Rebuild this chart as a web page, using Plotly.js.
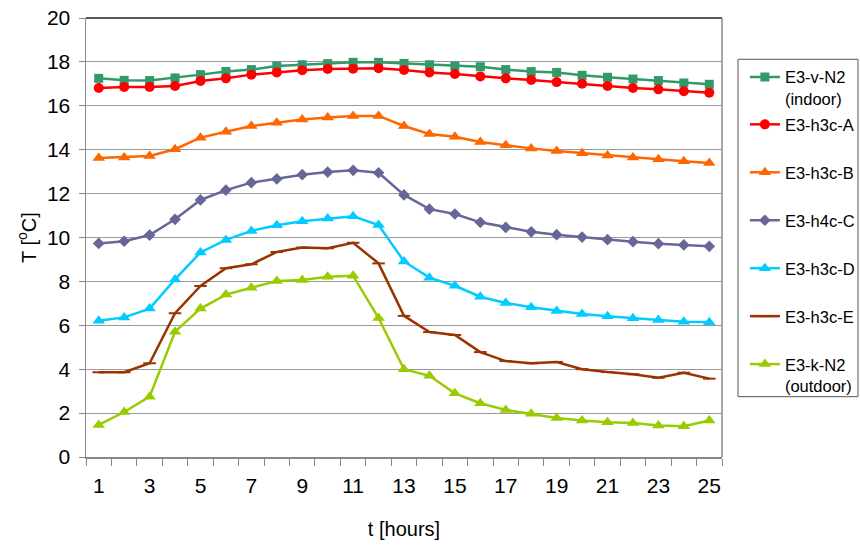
<!DOCTYPE html>
<html>
<head>
<meta charset="utf-8">
<script src="https://cdn.plot.ly/plotly-3.0.1.min.js"></script>
<style>html,body{margin:0;padding:0;background:#fff;}#chart{width:860px;height:546px;}</style>
</head>
<body>
<div id="chart"></div>
<script>
const hours = [1,2,3,4,5,6,7,8,9,10,11,12,13,14,15,16,17,18,19,20,21,22,23,24,25];
const xTickLabels = [1,3,5,7,9,11,13,15,17,19,21,23,25];
const yTickValues = [0,2,4,6,8,10,12,14,16,18,20];

const indoorN2 = [17.25,17.16,17.15,17.27,17.42,17.56,17.65,17.81,17.87,17.92,17.98,17.98,17.93,17.87,17.81,17.78,17.65,17.56,17.52,17.39,17.30,17.22,17.15,17.04,16.98];
const h3cA = [16.81,16.86,16.86,16.90,17.13,17.25,17.42,17.52,17.62,17.68,17.69,17.71,17.63,17.52,17.45,17.34,17.25,17.18,17.08,17.01,16.90,16.81,16.75,16.66,16.60];
const h3cB = [13.62,13.65,13.71,14.02,14.55,14.82,15.08,15.23,15.38,15.47,15.54,15.54,15.08,14.72,14.59,14.35,14.20,14.06,13.94,13.84,13.74,13.65,13.56,13.47,13.39];
const h4cC = [9.73,9.83,10.11,10.83,11.71,12.16,12.50,12.67,12.86,12.98,13.06,12.95,11.94,11.29,11.07,10.69,10.46,10.26,10.13,10.02,9.90,9.81,9.72,9.66,9.60];
const h3cD = [6.21,6.36,6.76,8.09,9.32,9.89,10.30,10.56,10.74,10.86,10.97,10.57,8.91,8.17,7.80,7.30,7.02,6.82,6.65,6.51,6.41,6.32,6.24,6.16,6.14];
const h3cE = [3.86,3.86,4.27,6.55,7.79,8.60,8.78,9.34,9.54,9.51,9.76,8.82,6.43,5.69,5.56,4.78,4.37,4.27,4.33,4.00,3.87,3.77,3.61,3.84,3.57];
const outdoorN2 = [1.46,2.05,2.75,5.71,6.76,7.40,7.71,8.02,8.06,8.21,8.26,6.33,4.00,3.70,2.90,2.45,2.14,1.97,1.78,1.66,1.58,1.55,1.43,1.40,1.66];

const seriesNames = ['E3-v-N2<br>(indoor)','E3-h3c-A','E3-h3c-B','E3-h4c-C','E3-h3c-D','E3-h3c-E','E3-k-N2<br>(outdoor)'];

function tr(y, name, color, symbol, size, legend, group, mlw) {
  return {
    x: hours, y: y, name: name, type: 'scatter', mode: 'lines+markers',
    line: {color: color, width: 2.5},
    marker: {color: color, symbol: symbol, size: size, line: {color: color, width: mlw || 0}},
    legend: legend, legendgroup: group
  };
}

const data = [
  tr(indoorN2, seriesNames[0], '#339966', 'square', 9, 'legend', 'g1'),
  tr(h3cA, seriesNames[1], '#ff0000', 'circle', 10, 'legend2', 'g2'),
  tr(h3cB, seriesNames[2], '#ff6600', 'triangle-up', 11, 'legend2', 'g3'),
  tr(h4cC, seriesNames[3], '#666699', 'diamond', 9, 'legend2', 'g4'),
  tr(h3cD, seriesNames[4], '#00ccff', 'triangle-up', 11, 'legend2', 'g5'),
  tr(h3cE, seriesNames[5], '#993300', 'line-ew', 9, 'legend2', 'g6', 2),
  tr(outdoorN2, seriesNames[6], '#99cc00', 'triangle-up', 11, 'legend2', 'g7')
];

const fontFam = 'Liberation Sans, Arial, sans-serif';
const layout = {
  width: 860, height: 546,
  margin: {l: 86, r: 138, t: 18, b: 89, autoexpand: false},
  paper_bgcolor: '#ffffff', plot_bgcolor: '#ffffff',
  font: {family: fontFam, color: '#000', size: 20},
  showlegend: true,
  xaxis: {
    range: [0.5, 25.5], tickmode: 'array', tickvals: xTickLabels, ticktext: xTickLabels.map(String),
    ticks: 'outside', ticklen: 7, tickcolor: 'rgba(0,0,0,0)',
    minor: {tickmode: 'array', tickvals: hours.map(h => h - 0.5).concat([25.5]), ticks: 'outside', ticklen: 7, tickcolor: '#888888', tickwidth: 1, showgrid: false},
    showgrid: false, zeroline: false, showline: true, linecolor: '#888888', linewidth: 1.5,
    ticklabelstandoff: 2,
    tickfont: {size: 21, family: fontFam, color: '#000'},
    title: {text: 't [hours]', font: {size: 20, family: fontFam, color: '#000'}, standoff: 26},
    fixedrange: true
  },
  yaxis: {
    range: [0, 20], tickmode: 'array', tickvals: yTickValues,
    ticks: 'outside', ticklen: 6, tickcolor: '#888888',
    showgrid: true, gridcolor: '#999999', gridwidth: 1, zeroline: false,
    showline: true, linecolor: '#888888', linewidth: 1.5,
    ticklabelstandoff: 4,
    tickfont: {size: 21, family: fontFam, color: '#000'},
    title: {text: 'T [<sup>o</sup>C]', font: {size: 20, family: fontFam, color: '#000'}, standoff: 5},
    fixedrange: true
  },
  legend: {
    x: 1.036, xanchor: 'left', y: 0.9048, yanchor: 'top',
    bgcolor: 'rgba(0,0,0,0)', borderwidth: 0, valign: 'top',
    font: {size: 16.5, family: fontFam, color: '#000'}
  },
  legend2: {
    x: 1.036, xanchor: 'left', y: 0.797, yanchor: 'top',
    bgcolor: 'rgba(0,0,0,0)', borderwidth: 0, valign: 'top',
    tracegroupgap: 23.5,
    font: {size: 16.5, family: fontFam, color: '#000'}
  },
  shapes: [
    {type: 'line', xref: 'paper', yref: 'paper', x0: 0, x1: 1, y0: 1, y1: 1, line: {color: '#222222', width: 1.5}},
    {type: 'line', xref: 'paper', yref: 'paper', x0: 1, x1: 1, y0: 0, y1: 1, line: {color: '#888888', width: 1.5}},
    {type: 'rect', xref: 'paper', yref: 'paper', x0: 1.0252, x1: 1.2138, y0: 0.1374, y1: 0.906, line: {color: '#555555', width: 1}}
  ]
};

Plotly.newPlot('chart', data, layout, {displayModeBar: false, staticPlot: true});
</script>
</body>
</html>
